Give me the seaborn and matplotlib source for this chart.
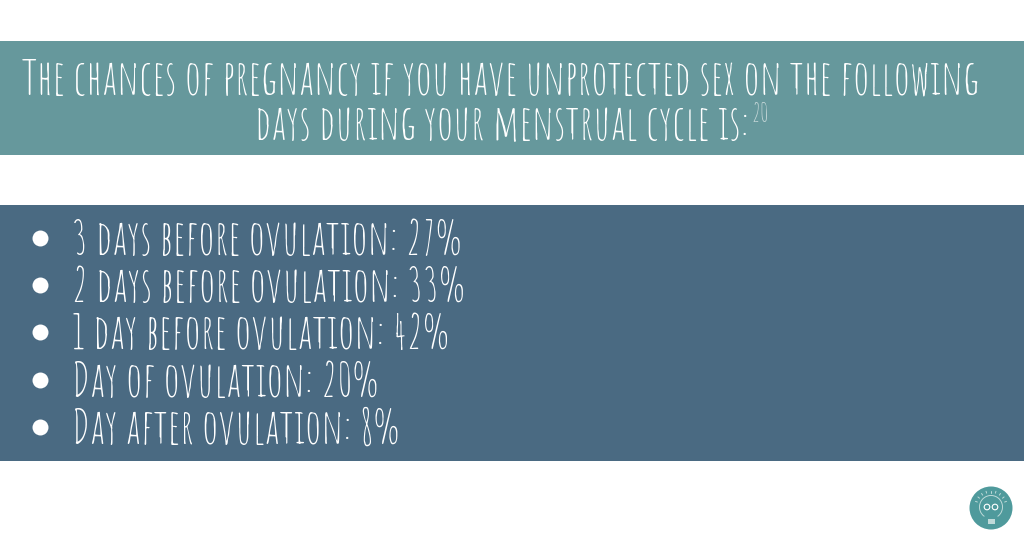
import matplotlib
matplotlib.use("Agg")
import matplotlib.pyplot as plt
from matplotlib.font_manager import FontProperties
from matplotlib.patches import Circle, Rectangle, Arc
import numpy as np
import pandas as pd
import seaborn as sns

# ---- data ----
title_lines = ["The chances of pregnancy if you have unprotected sex on the following",
               "days during your menstrual cycle is:"]
footnote = "20"
days = ["3 days before ovulation", "2 days before ovulation", "1 day before ovulation",
        "Day of ovulation", "Day after ovulation"]
chances = [27, 33, 42, 20, 8]

TEAL = "#66989C"
NAVY = "#4A6A82"
LOGO = "#4F9A9C"

sns.set_theme(style="white")
FAMILY = ["Amatic SC", "Liberation Sans"]
plt.rcParams["font.family"] = FAMILY

fig = plt.figure(figsize=(10.24, 5.36), dpi=100, facecolor="white")
ax = fig.add_axes([0, 0, 1, 1])
ax.set_xlim(0, 1024)
ax.set_ylim(536, 0)
ax.axis("off")
ax.add_patch(Rectangle((0, 41), 1024, 114, fc=TEAL, ec="none", zorder=1))
ax.add_patch(Rectangle((0, 205), 1024, 256, fc=NAVY, ec="none", zorder=1))

renderer = fig.canvas.get_renderer()


def px_width(s, size):
    fp = FontProperties(family=FAMILY, size=size)
    return renderer.get_text_width_height_descent(s, fp, False)[0]


def draw_line(line, x0, x1, baseline, color="white"):
    size = 30.0
    size *= (x1 - x0) / px_width(line, size)
    ax.text(x0, baseline, line, fontsize=size, color=color, ha="left",
            va="baseline", zorder=3)
    return size


# title
draw_line(title_lines[0], 22, 981, 94.5)
draw_line(title_lines[1], 255, 749, 140.5)
ax.text(751, 122, footnote, fontsize=19, color="#C9DADB", ha="left", va="baseline", zorder=3)

# list
rows = pd.DataFrame({"day": days, "chance": chances})
rows["y"] = [238 + i * 47.2 for i in range(len(rows))]
rows["x"] = 39.5
line_ends = [462, 465, 449, 378, 399]
for r, xe in zip(rows.itertuples(), line_ends):
    draw_line(f"{r.day}: {r.chance}%", 71.5, xe, r.y + 17)
sns.scatterplot(data=rows, x="x", y="y", ax=ax, s=132, color="white", linewidth=0,
                zorder=3, legend=False, clip_on=False)
ax.set_xlabel("")
ax.set_ylabel("")

# logo
cx, cy = 991, 508
PALE = "#BFDAD9"
ax.add_patch(Circle((cx, cy), 21.5, fc=LOGO, ec="none", zorder=2))
ax.add_patch(Arc((cx, cy - 1), 23, 23, theta1=-235, theta2=55, ec=PALE, lw=0.7, zorder=3))
for a in np.linspace(-160, -20, 9):
    r0, r1 = 14.5, 16.5
    t = np.radians(a)
    ax.plot([cx + r0 * np.cos(t), cx + r1 * np.cos(t)],
            [cy - 1 + r0 * np.sin(t), cy - 1 + r1 * np.sin(t)],
            color=PALE, lw=0.7, zorder=3, solid_capstyle="round")
for dx in (-4, 4):
    ax.add_patch(Circle((cx + dx, cy - 1), 2.8, fc="none", ec="white", lw=0.8, zorder=4))
ax.add_patch(Rectangle((cx - 3.5, cy + 10.5), 7, 5, fc=PALE, ec="none", zorder=4))

fig.savefig("out.png", dpi=100, facecolor="white")
